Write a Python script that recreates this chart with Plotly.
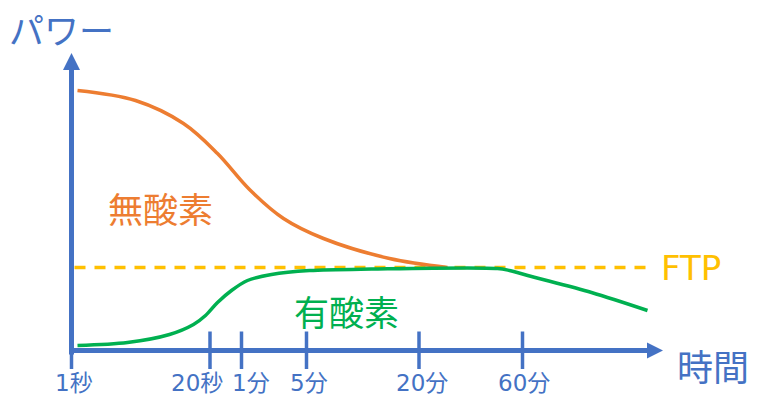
import plotly.graph_objects as go

# ---- data (chart units: x = time position, y = power) ----
tick_labels = ["1秒", "20秒", "1分", "5分", "20分", "60分"]
tick_pos = [0, 138.5, 170, 235, 347.5, 451]

anaerobic_x = [6, 64, 112, 146, 178, 212, 252, 318, 376]
anaerobic_y = [260, 250, 227, 197, 161, 132, 112, 92, 83]

aerobic_x = [6, 56, 98, 122, 134, 146, 160, 176, 200, 238, 300, 426, 438, 460, 520, 576]
aerobic_y = [5, 8, 16, 26, 35, 48, 60, 70, 76, 80, 81.5, 82, 80, 74, 58, 40]

ftp_value = 83
ftp_x = [3, 578]

# horizontal nudges of the tick labels (layout only)
label_shift = [2, -13, 9, 2.5, 3, 1.5]

BLUE = "#4472C4"
ORANGE = "#ED7D31"
GREEN = "#00B050"
YELLOW = "#FFC000"
FONT = "Noto Sans CJK JP"
FONT_LAT = "DejaVu Sans, Noto Sans CJK JP"

W, H = 768, 414
X0_PAGE, Y0_PAGE = 71.5, 350.5   # page pixel of the chart origin

fig = go.Figure()

fig.add_trace(go.Scatter(x=ftp_x, y=[ftp_value, ftp_value], mode="lines",
                         line=dict(color=YELLOW, width=3.5, dash="11px,9px"),
                         hoverinfo="skip", showlegend=False))
fig.add_trace(go.Scatter(x=anaerobic_x, y=anaerobic_y, mode="lines",
                         line=dict(color=ORANGE, width=3.5, shape="spline", smoothing=1.0),
                         showlegend=False))
fig.add_trace(go.Scatter(x=aerobic_x, y=aerobic_y, mode="lines",
                         line=dict(color=GREEN, width=3.5, shape="spline", smoothing=0.9),
                         showlegend=False))

shapes = []
# y axis with arrow
shapes.append(dict(type="line", xref="x", yref="y", x0=0, x1=0, y0=-4, y1=282,
                   line=dict(color=BLUE, width=5)))
shapes.append(dict(type="path", xref="x", yref="y",
                   path="M -8.5 280.5 L 8.5 280.5 L 0 297.5 Z",
                   fillcolor=BLUE, line=dict(color=BLUE, width=0)))
# x axis with arrow
shapes.append(dict(type="line", xref="x", yref="y", x0=-2.5, x1=577, y0=0, y1=0,
                   line=dict(color=BLUE, width=5)))
shapes.append(dict(type="path", xref="x", yref="y",
                   path="M 575.5 -8 L 575.5 8 L 591.5 0 Z",
                   fillcolor=BLUE, line=dict(color=BLUE, width=0)))
# ticks
for i, tp in enumerate(tick_pos):
    shapes.append(dict(type="line", xref="x", yref="y", x0=tp, x1=tp,
                       y0=(0 if i == 0 else 19), y1=-18.5,
                       line=dict(color=BLUE, width=3.5)))

annotations = []
for tp, lab, sh in zip(tick_pos, tick_labels, label_shift):
    annotations.append(dict(x=tp + sh, y=-32.5, xref="x", yref="y", text=lab, showarrow=False,
                            font=dict(family=FONT_LAT, size=23, color=BLUE),
                            xanchor="center", yanchor="middle"))

annotations += [
    dict(x=-10.5, y=322.5, xref="x", yref="y", text="パワー", showarrow=False,
         font=dict(family=FONT, size=35, color=BLUE), xanchor="center", yanchor="middle"),
    dict(x=641, y=-14.5, xref="x", yref="y", text="時間", showarrow=False,
         font=dict(family=FONT, size=36, color=BLUE), xanchor="center", yanchor="middle"),
    dict(x=587, y=ftp_value, xref="x", yref="y", text="FTP", showarrow=False,
         font=dict(family=FONT_LAT, size=34, color=YELLOW), xanchor="left", yanchor="middle"),
    dict(x=89, y=143.5, xref="x", yref="y", text="無酸素", showarrow=False,
         font=dict(family=FONT, size=35, color=ORANGE), xanchor="center", yanchor="middle"),
    dict(x=275, y=40.5, xref="x", yref="y", text="有酸素", showarrow=False,
         font=dict(family=FONT, size=35, color=GREEN), xanchor="center", yanchor="middle"),
]

fig.update_layout(
    width=W, height=H,
    margin=dict(l=0, r=0, t=0, b=0),
    paper_bgcolor="white", plot_bgcolor="white",
    xaxis=dict(range=[-X0_PAGE, W - X0_PAGE], visible=False, fixedrange=True),
    yaxis=dict(range=[Y0_PAGE - H, Y0_PAGE], visible=False, fixedrange=True),
    shapes=shapes, annotations=annotations,
    showlegend=False,
)

fig.write_html("out.html", config={"displayModeBar": False},
               post_script="document.body.style.margin='0';document.body.style.overflow='hidden';")
